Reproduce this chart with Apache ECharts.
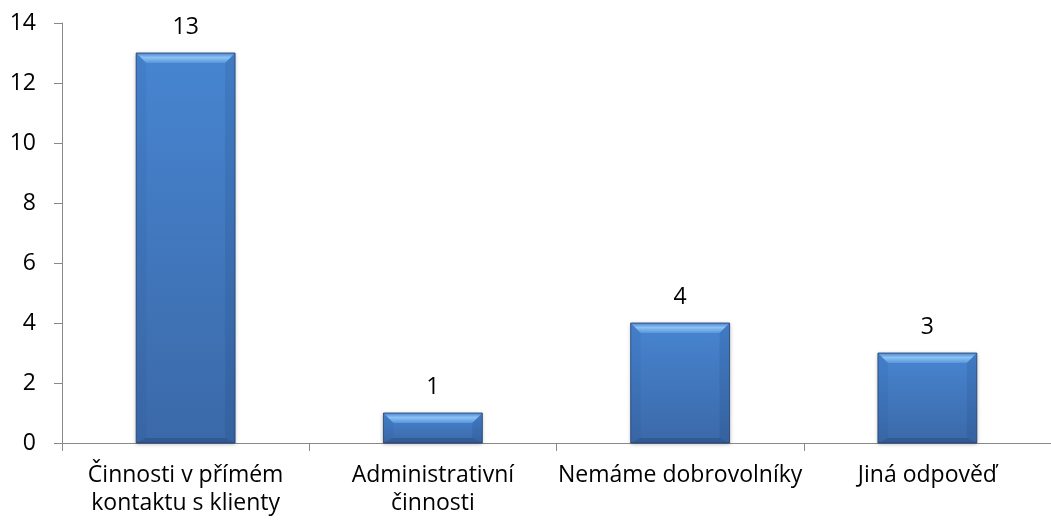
<!DOCTYPE html>
<html><head><meta charset="utf-8">
<script src="https://cdn.jsdelivr.net/npm/echarts@6/dist/echarts.min.js"></script>
<style>html,body{margin:0;padding:0;background:#fff}#c{width:1051px;height:522px}</style>
</head><body><div id="c"></div>
<script>
var categories = ["Činnosti v přímém\nkontaktu s klienty", "Administrativní\nčinnosti", "Nemáme dobrovolníky", "Jiná odpověď"];
var values = [13, 1, 4, 3];
var yTicks = [0, 2, 4, 6, 8, 10, 12, 14];

var chart = echarts.init(document.getElementById('c'), null, {renderer: 'canvas'});
var FONT = '"Open Sans", sans-serif';
var axisColor = '#898989';

function bevel(params, api) {
  var top = api.coord([api.value(0), api.value(1)]);
  var bot = api.coord([api.value(0), 0]);
  var w = api.size([1, 0])[0] * 0.4;
  var x0 = top[0] - w / 2, x1 = top[0] + w / 2, y0 = top[1], y1 = bot[1];
  var b = Math.min(10, (y1 - y0) / 2.5);
  var bb = Math.min(5, (y1 - y0) / 5);
  return {
    type: 'group',
    children: [
      {type: 'polygon', shape: {points: [[x0, y0], [x1, y0], [x1 - b, y0 + b], [x0 + b, y0 + b]]},
        style: {fill: new echarts.graphic.LinearGradient(0, 0, 0, 1, [{offset: 0, color: '#4a86d2'}, {offset: 0.45, color: '#8cc2f3'}, {offset: 1, color: '#5896dc'}])}},
      {type: 'polygon', shape: {points: [[x0, y0], [x0 + b, y0 + b], [x0 + b, y1 - bb], [x0, y1]]},
        style: {fill: 'rgba(30,70,130,0.08)'}},
      {type: 'polygon', shape: {points: [[x1, y0], [x1 - b, y0 + b], [x1 - b, y1 - bb], [x1, y1]]},
        style: {fill: 'rgba(20,50,100,0.12)'}},
      {type: 'polygon', shape: {points: [[x0, y1], [x1, y1], [x1 - b, y1 - bb], [x0 + b, y1 - bb]]},
        style: {fill: 'rgba(20,45,90,0.25)'}},
      {type: 'rect', shape: {x: x0, y: y0, width: x1 - x0, height: y1 - y0},
        style: {fill: 'none', stroke: '#1f3f6a', lineWidth: 1, opacity: 0.8}}
    ]
  };
}

chart.setOption({
  animation: false,
  grid: {left: 62, right: -9, top: 23, bottom: 79, containLabel: false},
  xAxis: {
    type: 'category', data: categories,
    axisLine: {lineStyle: {color: axisColor, width: 1}},
    axisTick: {show: true, length: 8, lineStyle: {color: axisColor}},
    axisLabel: {color: '#000', fontFamily: FONT, fontSize: 23, lineHeight: 28, margin: 18, interval: 0}
  },
  yAxis: {
    type: 'value', min: 0, max: 14, interval: 2,
    splitLine: {show: false},
    axisLine: {show: true, lineStyle: {color: axisColor, width: 1}},
    axisTick: {show: true, length: 8, lineStyle: {color: axisColor}},
    axisLabel: {color: '#000', fontFamily: FONT, fontSize: 23, margin: 26,
      formatter: function (v) { return yTicks.indexOf(v) >= 0 ? String(v) : ''; }}
  },
  series: [
    {
      type: 'bar', data: values, barWidth: '40%',
      itemStyle: {
        color: new echarts.graphic.LinearGradient(0, 0, 0, 1, [
          {offset: 0, color: '#4785d1'}, {offset: 1, color: '#3b69a8'}]),
        shadowColor: 'rgba(0,0,0,0.3)', shadowBlur: 4, shadowOffsetX: 0, shadowOffsetY: 1
      },
      label: {show: true, position: 'top', distance: 14, color: '#000', fontFamily: FONT, fontSize: 23}
    },
    {
      type: 'custom', renderItem: bevel, data: values.map(function (v, i) { return [i, v]; }),
      encode: {x: 0, y: 1}, silent: true, z: 3
    }
  ]
});
</script></body></html>
